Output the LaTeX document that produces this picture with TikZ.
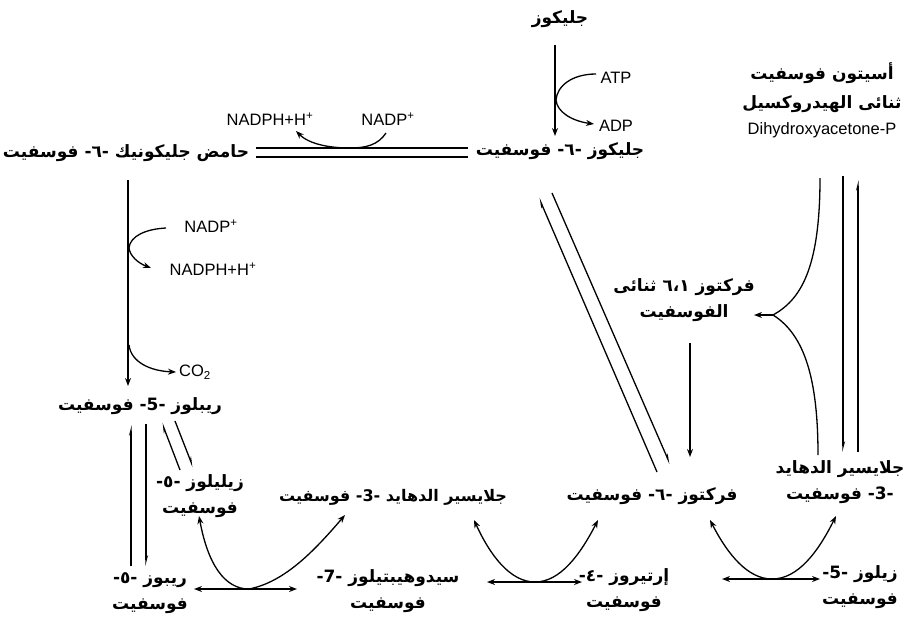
\documentclass[tikz,border=0pt]{standalone}
\usepackage{fontspec}
\usetikzlibrary{arrows.meta}
\TeXXeTstate=1
\newfontfamily\arfont[Script=Arabic]{DejaVu Sans Bold}
\newfontfamily\latfont{Liberation Sans}
\newcommand\AR[1]{\beginR #1\endR}
\newcommand\arf{\arfont\fontsize{17}{26}\selectfont}
\newcommand\latf{\latfont\fontsize{16.5}{18}\selectfont}
\tikzset{
  ar/.style={font=\arf, inner sep=1pt, align=center},
  lat/.style={font=\latf, inner sep=1pt},
  ln/.style={line width=1.3pt},
  arr/.style={ln, -{Stealth[length=8pt,width=6pt]}},
  harp/.style={ln, -{Stealth[harpoon,length=8pt,width=4pt]}},
  dbl/.style={ln, {Stealth[length=8pt,width=6pt]}-{Stealth[length=8pt,width=6pt]}}
}
\begin{document}
\begin{tikzpicture}[x=1pt,y=-1pt]
\useasboundingbox[fill=white] (0,0) rectangle (909,624);
% ---- nodes
\node[ar] (glc) at (560,19) {\AR{جليكوز}};
\node[lat] (atp) at (616,78) {ATP};
\node[lat] (adp) at (616,126) {ADP};
\node[ar] (g6p) at (560,151) {\AR{جليكوز -٦- فوسفيت}};
\node[ar] (pg6) at (126,153) {\AR{حامض جليكونيك -٦- فوسفيت}};
\node[lat] (nadph1) at (270,119) {NADPH+H\textsuperscript{+}};
\node[lat] (nadp1) at (388,119) {NADP\textsuperscript{+}};
\node[lat] (nadp2) at (211,226) {NADP\textsuperscript{+}};
\node[lat] (nadph2) at (213,269) {NADPH+H\textsuperscript{+}};
\node[lat] (co2) at (195,372) {CO\textsubscript{2}};
\node[ar] (ru5p) at (140,406) {\AR{ريبلوز -5- فوسفيت}};
\node[ar] (xu5pL) at (200,496) {\AR{زيليلوز -٥-}\\\AR{فوسفيت}};
\node[ar] (r5p) at (150,593) {\AR{ريبوز -٥-}\\\AR{فوسفيت}};
\node[ar, font=\arf\fontsize{16}{26}\selectfont] (g3pM) at (393,497) {\AR{جلايسير الدهايد -3- فوسفيت}};
\node[ar] (s7p) at (388,591) {\AR{سيدوهيبتيلوز -7-}\\\AR{فوسفيت}};
\node[ar] (e4p) at (624,590) {\AR{إرتيروز -٤-}\\\AR{فوسفيت}};
\node[ar] (f6p) at (652,496) {\AR{فركتوز -٦- فوسفيت}};
\node[ar] (xu5pR) at (860,587) {\AR{زيلوز -5-}\\\AR{فوسفيت}};
\node[ar] (g3pR) at (840,482) {\AR{جلايسير الدهايد}\\\AR{-3- فوسفيت}};
\node[ar] (fbp) at (684,300) {\AR{فركتوز ٦،١ ثنائى}\\\AR{الفوسفيت}};
\node[ar] (dhap) at (822,100) {\AR{أسيتون فوسفيت}\\[3pt]\AR{ثنائى الهيدروكسيل}\\{\latf Dihydroxyacetone-P}};
% ---- glucose -> G6P
\coordinate (glcA) at (555,45); \coordinate (glcB) at (555,136);
\draw[arr] (glcA) -- (glcB);
\coordinate (atpS) at (596,74); \coordinate (atpM) at (556,100); \coordinate (adpE) at (594,124);
\draw[arr] (atpS) .. controls (572,74) and (557,86) .. (atpM) .. controls (557,112) and (572,121) .. (adpE);
% ---- G6P <-> 6PG
\coordinate (dlA) at (256,148); \coordinate (dlB) at (468,148);
\coordinate (dlC) at (256,157); \coordinate (dlD) at (468,157);
\draw[ln] (dlA) -- (dlB);
\draw[ln] (dlC) -- (dlD);
\coordinate (n1S) at (386,133); \coordinate (n1M) at (350,148); \coordinate (n1E) at (296,131);
\draw[arr] (n1S) .. controls (378,145) and (366,148) .. (n1M) .. controls (332,148) and (310,145) .. (n1E);
% ---- 6PG -> Ru5P
\coordinate (pgA) at (128,180); \coordinate (pgB) at (128,386);
\draw[arr] (pgA) -- (pgB);
\coordinate (n2S) at (166,228); \coordinate (n2M) at (129,248); \coordinate (n2E) at (151,268);
\draw[arr] (n2S) .. controls (146,229) and (130,236) .. (n2M) .. controls (130,256) and (138,263) .. (n2E);
\coordinate (c2S) at (129,345); \coordinate (c2E) at (176,372);
\draw[arr] (c2S) .. controls (131,362) and (150,371) .. (c2E);
% ---- Ru5P <-> R5P, Xu5P
\draw[harp] (131,566) -- (131,425);
\draw[harp] (146,424) -- (146,566);
\draw[harp] (180,470) -- (162,423);
\draw[harp] (175,421) -- (193,467);
% ---- transketolase 1
\draw[dbl] (194,589) -- (297,589);
\draw[arr] (249,589) .. controls (225,589) and (208,565) .. (199,516);
\draw[arr] (249,589) .. controls (285,582) and (315,550) .. (345,515);
% ---- group 2
\draw[dbl] (487,582) -- (582,582);
\draw[arr] (535,582) .. controls (510,582) and (490,555) .. (474,520);
\draw[arr] (535,582) .. controls (560,582) and (580,555) .. (598,520);
% ---- group 3
\draw[dbl] (722,579) -- (820,579);
\draw[arr] (772,579) .. controls (748,579) and (728,555) .. (710,520);
\draw[arr] (772,579) .. controls (798,579) and (818,552) .. (836,516);
% ---- G6P <-> F6P
\draw[harp] (657,472) -- (539,198);
\draw[harp] (552,193) -- (670,464);
% ---- F1,6BP -> F6P
\draw[arr] (690,343) -- (690,457);
% ---- DHAP / G3P -> F1,6BP
\coordinate (jn) at (773,315);
\draw[ln] (820,178) .. controls (820,270) and (800,300) .. (jn);
\draw[ln] (jn) .. controls (805,335) and (818,380) .. (818,455);
\draw[arr] (jn) -- (754,315);
\draw[harp] (843,176) -- (843,452);
\draw[harp] (858,452) -- (858,180);
\end{tikzpicture}
\end{document}
